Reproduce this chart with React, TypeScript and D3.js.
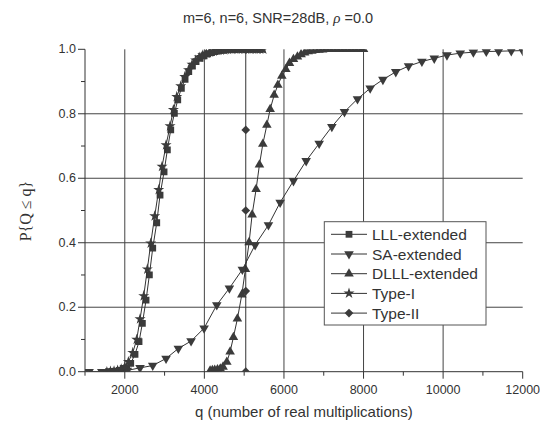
import React from "react";
import * as d3 from "d3";

const LLL_Q = [1590, 1680, 1772, 1864, 1956, 2048, 2149, 2257, 2358, 2442, 2534, 2618, 2702, 2803, 2886, 2987, 3070, 3155, 3246, 3331, 3422, 3515, 3608, 3700, 3791, 3892, 3993, 4085, 4180, 4270, 4360, 4450, 4540, 4630, 4720, 4810, 4900, 4990, 5080, 5170, 5260, 5350, 5440];
const LLL_P = [0, 0.001, 0.002, 0.004, 0.007, 0.012, 0.026, 0.054, 0.093, 0.150, 0.222, 0.300, 0.383, 0.462, 0.548, 0.620, 0.688, 0.750, 0.801, 0.843, 0.879, 0.907, 0.931, 0.948, 0.962, 0.972, 0.980, 0.986, 0.990, 0.993, 0.995, 0.997, 0.998, 0.999, 0.999, 1, 1, 1, 1, 1, 1, 1, 1];

const SA_Q = [1103, 1423, 1743, 2063, 2383, 2702, 3037, 3346, 3666, 3993, 4312, 4629, 4955, 5275, 5610, 5904, 6239, 6558, 6885, 7204, 7521, 7848, 8167, 8487, 8810, 9131, 9467, 9777, 10096, 10430, 10760, 11085, 11394, 11713, 12000];
const SA_P = [0, 0, 0, 0.004, 0.012, 0.019, 0.041, 0.072, 0.095, 0.135, 0.207, 0.259, 0.317, 0.393, 0.455, 0.525, 0.592, 0.654, 0.708, 0.760, 0.806, 0.846, 0.879, 0.906, 0.930, 0.948, 0.962, 0.972, 0.982, 0.988, 0.991, 0.993, 0.994, 0.995, 0.996];

const DLLL_Q = [4144, 4200, 4260, 4330, 4400, 4470, 4564, 4647, 4730, 4830, 4941, 5032, 5124, 5200, 5300, 5384, 5469, 5570, 5653, 5754, 5846, 5947, 6047, 6138, 6239, 6339, 6430, 6520, 6610, 6700, 6790, 6880, 6970, 7060, 7150, 7240, 7330, 7420, 7510, 7600, 7690, 7780, 7870, 7960, 8000];
const DLLL_P = [0.003, 0.004, 0.005, 0.007, 0.009, 0.015, 0.030, 0.062, 0.107, 0.164, 0.239, 0.318, 0.401, 0.487, 0.566, 0.642, 0.706, 0.765, 0.814, 0.858, 0.889, 0.917, 0.938, 0.957, 0.969, 0.977, 0.984, 0.989, 0.993, 0.995, 0.997, 0.998, 0.999, 1, 1, 1, 1, 1, 1, 1, 1, 1, 1, 1, 1];

const TYPE1_Q = [1550, 1640, 1730, 1820, 1910, 2000, 2090, 2200, 2300, 2383, 2476, 2567, 2652, 2752, 2853, 2936, 3037, 3138, 3221, 3306, 3406, 3507, 3600, 3690, 3780, 3870, 3960, 4050, 4140, 4230, 4320, 4410, 4500, 4590, 4680, 4770, 4860, 4950, 5040, 5130, 5220, 5310, 5400, 5480];
const TYPE1_P = [0, 0.001, 0.002, 0.004, 0.008, 0.015, 0.031, 0.059, 0.100, 0.163, 0.235, 0.318, 0.398, 0.483, 0.564, 0.636, 0.703, 0.762, 0.812, 0.853, 0.886, 0.915, 0.936, 0.953, 0.966, 0.975, 0.982, 0.987, 0.991, 0.994, 0.996, 0.997, 0.998, 0.999, 0.999, 1, 1, 1, 1, 1, 1, 1, 1, 1];

const TYPE2_Q = [5040, 5040, 5040, 5040, 5040];
const TYPE2_P = [0, 0.25, 0.5, 0.75, 1.0];

const SERIES_NAMES = ["LLL-extended", "SA-extended", "DLLL-extended", "Type-I", "Type-II"];
const X_TICKS = [2000, 4000, 6000, 8000, 10000, 12000];
const X_MINOR = [1000, 3000, 5000, 7000, 9000, 11000];
const Y_TICKS = [0, 0.2, 0.4, 0.6, 0.8, 1.0];
const Y_MINOR = [0.1, 0.3, 0.5, 0.7, 0.9];
const X_GRID = [2000, 4000, 6000, 8000, 10000];
const Y_GRID = [0.2, 0.4, 0.6, 0.8];

const zip = (q: number[], p: number[]) => q.slice(0, Math.min(q.length, p.length)).map((v, i) => [v, p[i]] as [number, number]);

const SERIES = [
  { name: SERIES_NAMES[0], data: zip(LLL_Q, LLL_P), marker: "square" },
  { name: SERIES_NAMES[1], data: zip(SA_Q, SA_P), marker: "tridown" },
  { name: SERIES_NAMES[2], data: zip(DLLL_Q, DLLL_P), marker: "triup" },
  { name: SERIES_NAMES[3], data: zip(TYPE1_Q, TYPE1_P), marker: "star" },
  { name: SERIES_NAMES[4], data: zip(TYPE2_Q, TYPE2_P), marker: "diamond" },
];

const W = 540, H = 432;
const L = 85, R = 522.7, T = 49.3, B = 371.7;
const INK = "#333";
const FILL = "#3b3b3b";

const symPath: Record<string, string> = {
  square: d3.symbol(d3.symbolSquare, 46)() as string,
  tridown: d3.symbol(d3.symbolTriangle, 40)() as string,
  triup: d3.symbol(d3.symbolTriangle, 40)() as string,
  star: d3.symbol(d3.symbolStar, 38)() as string,
  diamond: d3.symbol(d3.symbolSquare, 38)() as string,
};
const symRot: Record<string, number> = { square: 0, tridown: 180, triup: 0, star: 0, diamond: 45 };

function Marker({ type, x, y }: { type: string; x: number; y: number }) {
  return <path d={symPath[type]} transform={`translate(${x},${y}) rotate(${symRot[type]})`} fill={FILL} stroke="none" />;
}

export default function App() {
  const x = d3.scaleLinear().domain([1000, 12000]).range([L, R]);
  const y = d3.scaleLinear().domain([0, 1]).range([B, T]);
  const line = d3.line<[number, number]>().x(d => x(d[0])).y(d => y(d[1]));
  const font = "Arial, 'Liberation Sans', Helvetica, sans-serif";

  const legX = 324.3, legY = 221.7, legW = 161.7, legH = 103.3;
  const rowY = (i: number) => 234.3 + i * 19.7;

  return (
    <svg width={W} height={H} style={{ position: "absolute", left: 0, top: 0, background: "#fff" }} fontFamily={font}>
      <defs>
        <clipPath id="plotclip">
          <rect x={L} y={T} width={R - L} height={B - T} />
        </clipPath>
      </defs>
      <rect x={0} y={0} width={W} height={H} fill="#fff" />
      <text x={278} y={23} textAnchor="middle" fontSize={14.5} fill={INK}>
        m=6, n=6, SNR=28dB, <tspan fontFamily="'Liberation Serif', 'DejaVu Serif', serif" fontStyle="italic" fontSize={15}>ρ</tspan> =0.0
      </text>
      <g stroke="#444" strokeWidth={1}>
        {X_GRID.map(v => <line key={"gx" + v} x1={x(v)} x2={x(v)} y1={T} y2={B} />)}
        {Y_GRID.map(v => <line key={"gy" + v} x1={L} x2={R} y1={y(v)} y2={y(v)} />)}
      </g>
      <g stroke={INK} strokeWidth={1}>
        <line x1={L} x2={L} y1={T} y2={B} />
        <line x1={L} x2={R} y1={B} y2={B} />
        {Y_TICKS.map(v => <line key={"yt" + v} x1={L - 7} x2={L} y1={y(v)} y2={y(v)} />)}
        {Y_MINOR.map(v => <line key={"ym" + v} x1={L - 4} x2={L} y1={y(v)} y2={y(v)} />)}
        {X_TICKS.map(v => <line key={"xt" + v} x1={x(v)} x2={x(v)} y1={B} y2={B + 7} />)}
        {X_MINOR.map(v => <line key={"xm" + v} x1={x(v)} x2={x(v)} y1={B} y2={B + 4} />)}
      </g>
      <g fontSize={12.5} fill={INK}>
        {Y_TICKS.map(v => (
          <text key={"yl" + v} x={L - 9} y={y(v)} textAnchor="end" dominantBaseline="central">{v.toFixed(1)}</text>
        ))}
        {X_TICKS.map(v => (
          <text key={"xl" + v} x={x(v)} y={394} textAnchor="middle">{v}</text>
        ))}
      </g>
      <text x={(L + R) / 2} y={417} textAnchor="middle" fontSize={15} fill={INK}>q (number of real multiplications)</text>
      <text transform={`translate(25,211) rotate(-90)`} textAnchor="middle" dominantBaseline="central" fontSize={16}
        fontFamily="'Liberation Serif', 'Times New Roman', serif" fill={INK}>P{"{"}Q ≤ q{"}"}</text>
      <g clipPath="url(#plotclip)">
        {SERIES.map(s => (
          <g key={s.name}>
            <path d={line(s.data) as string} fill="none" stroke={INK} strokeWidth={1} />
            {s.data.map((d, i) => <Marker key={i} type={s.marker} x={x(d[0])} y={y(d[1])} />)}
          </g>
        ))}
      </g>
      <rect x={legX} y={legY} width={legW} height={legH} fill="#fff" stroke="#555" strokeWidth={1} />
      {SERIES.map((s, i) => (
        <g key={"lg" + s.name}>
          <line x1={331} x2={367} y1={rowY(i)} y2={rowY(i)} stroke={INK} strokeWidth={1} />
          <Marker type={s.marker} x={349} y={rowY(i)} />
          <text x={372} y={rowY(i)} dominantBaseline="central" fontSize={15.5} fill={INK}>{s.name}</text>
        </g>
      ))}
    </svg>
  );
}
